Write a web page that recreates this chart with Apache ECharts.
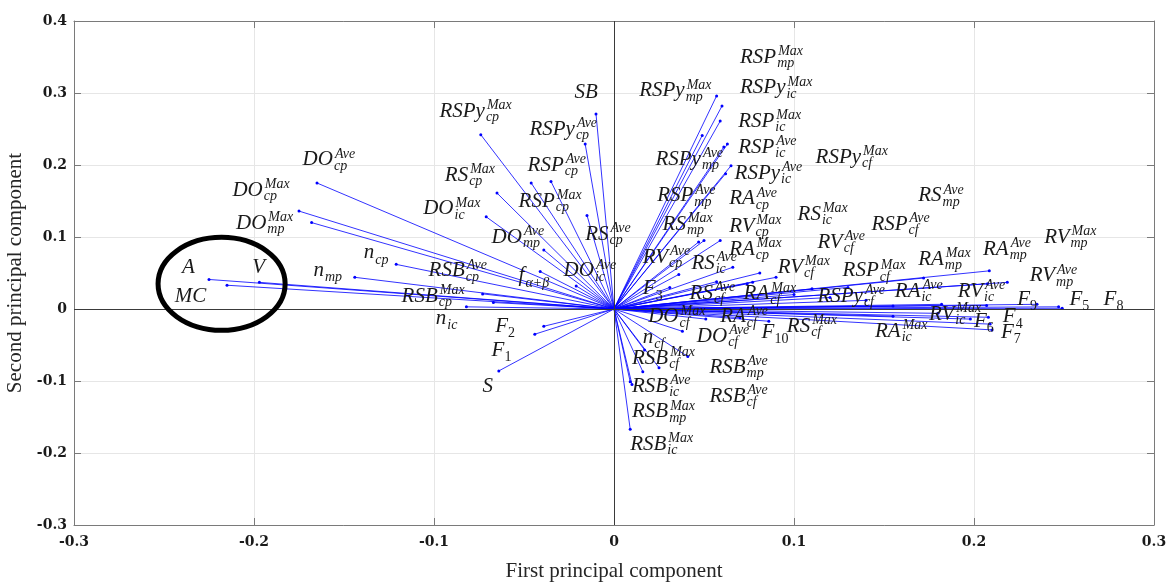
<!DOCTYPE html>
<html>
<head>
<meta charset="utf-8">
<script src="https://cdn.jsdelivr.net/npm/echarts@6/dist/echarts.min.js"></script>
<style>
  html, body { margin: 0; padding: 0; background: #fff; }
  #main { width: 1172px; height: 584px; }
</style>
</head>
<body>
<div id="main"></div>
<script>
// variable names: base symbol, subscript, superscript
const varBase = ['A', 'V', 'MC', 'DO', 'DO', 'DO', 'n', 'n', 'RSB', 'RSB', 'n', 'F', 'F', 'S',
  'RSPy', 'SB', 'RSPy', 'RSP', 'RSP', 'RS', 'DO', 'RS', 'DO', 'f', 'DO',
  'RSPy', 'RSP', 'RSPy', 'RSPy', 'RSP', 'RSP', 'RSPy', 'RSP', 'RS', 'RV', 'RA', 'RA', 'RS', 'RS', 'RV', 'F', 'RS',
  'RSPy', 'RS', 'RSP', 'RV', 'RV', 'RSP', 'RA', 'RA', 'RA', 'RV', 'RV',
  'RSPy', 'RA', 'RV', 'F', 'F', 'F', 'RV', 'F', 'F', 'F', 'RA', 'RS', 'F', 'RA', 'DO', 'DO', 'n',
  'RSB', 'RSB', 'RSB', 'RSB', 'RSB', 'RSB'];
const varSub = ['', '', '', 'cp', 'cp', 'mp', 'cp', 'mp', 'cp', 'cp', 'ic', '2', '1', '',
  'cp', '', 'cp', 'cp', 'cp', 'cp', 'ic', 'cp', 'mp', 'α+β', 'ic',
  'mp', 'mp', 'ic', 'mp', 'ic', 'ic', 'ic', 'mp', 'mp', 'cp', 'cp', 'cp', 'ic', 'ic', 'cp', '3', 'cf',
  'cf', 'mp', 'cf', 'cf', 'cf', 'cf', 'cf', 'mp', 'mp', 'mp', 'mp',
  'cf', 'ic', 'ic', '9', '5', '8', 'ic', '6', '4', '7', 'ic', 'cf', '10', 'cf', 'cf', 'cf', 'cf',
  'cf', 'mp', 'cf', 'ic', 'mp', 'ic'];
const varSup = ['', '', '', 'Ave', 'Max', 'Max', '', '', 'Ave', 'Max', '', '', '', '',
  'Max', '', 'Ave', 'Ave', 'Max', 'Max', 'Max', 'Ave', 'Ave', '', 'Ave',
  'Max', 'Max', 'Max', 'Ave', 'Max', 'Ave', 'Ave', 'Ave', 'Max', 'Max', 'Ave', 'Max', 'Max', 'Ave', 'Ave', '', 'Ave',
  'Max', 'Ave', 'Ave', 'Ave', 'Max', 'Max', 'Max', 'Max', 'Ave', 'Max', 'Ave',
  'Ave', 'Ave', 'Ave', '', '', '', 'Max', '', '', '', 'Max', 'Max', '', 'Ave', 'Max', 'Ave', '',
  'Max', 'Ave', 'Ave', 'Ave', 'Max', 'Max'];

// loadings on the first and second principal components
const pc1 = [-0.225, -0.197, -0.215, -0.165, -0.175, -0.168, -0.121, -0.144, -0.073, -0.067, -0.082, -0.039, -0.044, -0.064,
  -0.074, -0.010, -0.016, -0.035, -0.046, -0.065, -0.071, -0.015, -0.039, -0.041, -0.021,
  0.057, 0.060, 0.059, 0.049, 0.063, 0.061, 0.065, 0.062, 0.050, 0.059, 0.047, 0.081, 0.077, 0.057, 0.036, 0.031, 0.074,
  0.090, 0.066, 0.110, 0.100, 0.120, 0.130, 0.140, 0.172, 0.2085, 0.2075, 0.2185,
  0.155, 0.182, 0.207, 0.235, 0.247, 0.249, 0.198, 0.208, 0.209, 0.210, 0.180, 0.155, 0.086, 0.070, 0.051, 0.038, 0.017,
  0.041, 0.025, 0.016, 0.009, 0.010, 0.009];
const pc2 = [0.041, 0.037, 0.033, 0.175, 0.136, 0.120, 0.062, 0.044, 0.021, 0.009, 0.003, -0.024, -0.035, -0.086,
  0.242, 0.271, 0.229, 0.177, 0.175, 0.161, 0.128, 0.130, 0.082, 0.052, 0.032,
  0.296, 0.282, 0.261, 0.241, 0.229, 0.225, 0.199, 0.188, 0.095, 0.095, 0.093, 0.050, 0.037, 0.038, 0.048, 0.030, 0.035,
  0.044, 0.058, 0.028, 0.020, 0.016, 0.030, 0.012, 0.043, 0.053, 0.035, 0.037,
  0.004, 0.0065, 0.005, 0.0065, 0.003, 0.001, -0.014, -0.0115, -0.021, -0.029, -0.006, -0.010, -0.017, -0.012, -0.014, -0.031, -0.057,
  -0.066, -0.0815, -0.087, -0.101, -0.105, -0.167];

// where each name is written (left edge, middle of the letters), in PC units
const labelPc1 = [-0.240, -0.201, -0.244, -0.173, -0.212, -0.210, -0.139, -0.167, -0.103, -0.118, -0.099, -0.066, -0.068, -0.073,
  -0.097, -0.022, -0.047, -0.048, -0.053, -0.094, -0.106, -0.016, -0.068, -0.053, -0.028,
  0.014, 0.070, 0.070, 0.023, 0.069, 0.069, 0.067, 0.024, 0.027, 0.064, 0.064, 0.064, 0.102, 0.043, 0.016, 0.016, 0.042,
  0.112, 0.169, 0.143, 0.113, 0.091, 0.127, 0.072, 0.169, 0.205, 0.239, 0.231,
  0.113, 0.156, 0.191, 0.224, 0.253, 0.272, 0.175, 0.200, 0.216, 0.215, 0.145, 0.096, 0.082, 0.059, 0.019, 0.046, 0.016,
  0.010, 0.053, 0.053, 0.010, 0.010, 0.009];
const labelPc2 = [0.057, 0.057, 0.018, 0.207, 0.165, 0.119, 0.078, 0.054, 0.053, 0.017, -0.013, -0.024, -0.057, -0.107,
  0.274, 0.301, 0.250, 0.199, 0.150, 0.185, 0.139, 0.104, 0.100, 0.046, 0.053,
  0.303, 0.350, 0.307, 0.208, 0.261, 0.225, 0.188, 0.157, 0.118, 0.115, 0.153, 0.083, 0.131, 0.063, 0.072, 0.028, 0.022,
  0.211, 0.157, 0.118, 0.093, 0.058, 0.053, 0.021, 0.069, 0.083, 0.100, 0.046,
  0.017, 0.025, 0.025, 0.013, 0.013, 0.013, -0.007, -0.017, -0.011, -0.033, -0.031, -0.024, -0.032, -0.011, -0.011, -0.038, -0.040,
  -0.069, -0.081, -0.121, -0.108, -0.143, -0.188];

// the ring drawn round A, V and MC
const ringCenter = [-0.218, 0.035];
const ringRadius = [0.0353, 0.0646];

const baseFont = 'italic 21px "Liberation Serif"';
const scriptFont = 'italic 14px "Liberation Serif"';
const digitFont = '14px "Liberation Serif"';
const measureCtx = document.createElement('canvas').getContext('2d');
function textWidth(str, font) {
  measureCtx.font = font;
  return measureCtx.measureText(str).width;
}

function tickText(v) {
  if (Math.abs(v) < 1e-9) return '0';
  return v.toFixed(1);
}

const chart = echarts.init(document.getElementById('main'), null, { renderer: 'canvas' });

const tickLabel = { fontFamily: 'DejaVu Serif', fontWeight: 'bold', fontSize: 14, color: '#1a1a1a' };
const nameStyle = { fontFamily: 'Liberation Serif', fontSize: 21, color: '#262626' };

const option = {
  animation: false,
  backgroundColor: '#fff',
  grid: { left: 74, right: 18, top: 21, bottom: 59, containLabel: false, outerBoundsMode: 'none' },
  xAxis: [{
    type: 'value', min: -0.3, max: 0.3, interval: 0.1,
    name: 'First principal component', nameLocation: 'middle', nameGap: 36,
    nameTextStyle: nameStyle,
    axisLine: { show: true, onZero: false, lineStyle: { color: '#7a7a7a', width: 1 } },
    axisTick: { show: true, inside: true, length: 7, lineStyle: { color: '#7a7a7a' } },
    axisLabel: { margin: 10, formatter: tickText, ...tickLabel },
    splitLine: { show: true, lineStyle: { color: '#e6e6e6' } }
  }, {
    type: 'value', min: -0.3, max: 0.3, interval: 0.1, position: 'top',
    axisLine: { show: true, onZero: false, lineStyle: { color: '#7a7a7a' } },
    axisTick: { show: true, inside: true, length: 7, lineStyle: { color: '#7a7a7a' } },
    axisLabel: { show: false }, splitLine: { show: false }
  }],
  yAxis: [{
    type: 'value', min: -0.3, max: 0.4, interval: 0.1,
    name: 'Second principal component', nameLocation: 'middle', nameGap: 42,
    nameTextStyle: nameStyle,
    axisLine: { show: true, onZero: false, lineStyle: { color: '#7a7a7a', width: 1 } },
    axisTick: { show: true, inside: true, length: 7, lineStyle: { color: '#7a7a7a' } },
    axisLabel: { margin: 7, formatter: tickText, ...tickLabel },
    splitLine: { show: true, lineStyle: { color: '#e6e6e6' } }
  }, {
    type: 'value', min: -0.3, max: 0.4, interval: 0.1, position: 'right',
    axisLine: { show: true, onZero: false, lineStyle: { color: '#7a7a7a' } },
    axisTick: { show: true, inside: true, length: 7, lineStyle: { color: '#7a7a7a' } },
    axisLabel: { show: false }, splitLine: { show: false }
  }],
  series: [
    {
      // vectors from the origin
      type: 'custom',
      name: 'loadings',
      z: 3,
      clip: true,
      data: pc1.map((x, i) => [x, pc2[i]]),
      renderItem: function (params, api) {
        const o = api.coord([0, 0]);
        const p = api.coord([api.value(0), api.value(1)]);
        return {
          type: 'group',
          children: [
            { type: 'line', shape: { x1: o[0], y1: o[1], x2: p[0], y2: p[1] },
              style: { stroke: 'rgba(0,0,255,0.8)', lineWidth: 1 } },
            { type: 'circle', shape: { cx: p[0], cy: p[1], r: 1.5 },
              style: { fill: '#0000ff' } }
          ]
        };
      },
      markLine: {
        silent: true, symbol: 'none', label: { show: false },
        lineStyle: { color: '#3a3a3a', width: 1, type: 'solid' },
        data: [{ xAxis: 0 }, { yAxis: 0 }]
      }
    },
    {
      // variable names with sub/superscripts
      type: 'custom',
      name: 'names',
      z: 5,
      data: labelPc1.map((x, i) => [x, labelPc2[i], i]),
      renderItem: function (params, api) {
        const i = api.value(2);
        const p = api.coord([api.value(0), api.value(1)]);
        const base = varBase[i], sub = varSub[i], sup = varSup[i];
        const w = textWidth(base, baseFont);
        const kids = [{
          type: 'text', x: p[0], y: p[1],
          style: { text: base, font: baseFont, fill: '#1a1a1a', align: 'left', verticalAlign: 'middle' }
        }];
        if (sub) {
          const numeric = /^[0-9]+$/.test(sub);
          kids.push({
            type: 'text', x: p[0] + w + (numeric ? 0 : 1), y: p[1] + (sup ? 6 : 7),
            style: { text: sub, font: numeric ? digitFont : scriptFont, fill: '#1a1a1a', align: 'left', verticalAlign: 'middle' }
          });
        }
        if (sup) {
          kids.push({
            type: 'text', x: p[0] + w + 2, y: p[1] - 6,
            style: { text: sup, font: scriptFont, fill: '#1a1a1a', align: 'left', verticalAlign: 'middle' }
          });
        }
        return { type: 'group', children: kids };
      }
    },
    {
      type: 'custom',
      name: 'ring',
      z: 6,
      data: [[ringCenter[0], ringCenter[1]]],
      renderItem: function (params, api) {
        const c = api.coord([api.value(0), api.value(1)]);
        const s = api.size(ringRadius);
        return {
          type: 'ellipse',
          shape: { cx: c[0], cy: c[1], rx: s[0], ry: s[1] },
          style: { fill: 'none', stroke: '#000', lineWidth: 5 }
        };
      }
    }
  ]
};

chart.setOption(option);
</script>
</body>
</html>
